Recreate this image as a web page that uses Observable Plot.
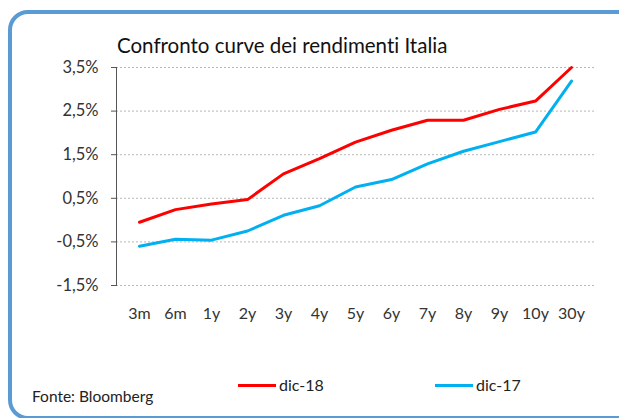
<!DOCTYPE html>
<html>
<head>
<meta charset="utf-8">
<script src="https://cdn.jsdelivr.net/npm/d3@7"></script>
<script src="https://cdn.jsdelivr.net/npm/@observablehq/plot@0.6"></script>
<style>
  html, body { margin: 0; padding: 0; background: #fff; }
  #wrap { position: relative; width: 619px; height: 418px; overflow: hidden; background: #fff; font-family: Lato, sans-serif; font-variant-ligatures: none; }
  #box { position: absolute; left: 8px; top: 10px; width: 640px; height: 410px; box-sizing: border-box;
         border: 4px solid #5B9BD5; border-radius: 20px; }
  #title { position: absolute; left: 117px; top: 36px; font-size: 20.5px; line-height: 18px; color: #111; white-space: nowrap; }
  #chart { position: absolute; left: 0; top: 0; }
  #chart svg text { font-variant-ligatures: none; }
  .leg { position: absolute; top: 377px; font-size: 16px; line-height: 16px; color: #222; white-space: nowrap; }
  .leg .sw { display: inline-block; width: 38px; height: 3px; vertical-align: middle; margin-right: 3px; position: relative; top: -1px; }
  #fonte { position: absolute; left: 32px; top: 388px; font-size: 15.5px; line-height: 16px; color: #222; white-space: nowrap; }
</style>
</head>
<body>
<div id="wrap">
  <div id="box"></div>
  <div id="title">Confronto curve dei rendimenti Italia</div>
  <div id="chart"></div>
  <div class="leg" style="left:238px"><span class="sw" style="background:#FF0000"></span>dic-18</div>
  <div class="leg" style="left:435px"><span class="sw" style="background:#00B0F0"></span>dic-17</div>
  <div id="fonte">Fonte: Bloomberg</div>
</div>
<script>
const tenors = ["3m", "6m", "1y", "2y", "3y", "4y", "5y", "6y", "7y", "8y", "9y", "10y", "30y"];
const dic18 = [-0.05, 0.24, 0.37, 0.47, 1.06, 1.41, 1.79, 2.06, 2.29, 2.29, 2.54, 2.73, 3.50];
const dic17 = [-0.60, -0.44, -0.46, -0.25, 0.11, 0.33, 0.76, 0.93, 1.29, 1.58, 1.80, 2.02, 3.19];
const seriesNames = ["dic-18", "dic-17"];
const seriesColors = ["#FF0000", "#00B0F0"];
const yTicks = [-1.5, -0.5, 0.5, 1.5, 2.5, 3.5];

const data = [];
tenors.forEach((t, i) => {
  data.push({tenor: t, serie: seriesNames[0], v: dic18[i]});
  data.push({tenor: t, serie: seriesNames[1], v: dic17[i]});
});
const fmt = d => d.toFixed(1).replace(".", ",") + "%";

const chart = Plot.plot({
  width: 619,
  height: 340,
  marginLeft: 116,
  marginRight: 25,
  marginTop: 67,
  marginBottom: 55,
  style: {fontFamily: "Lato, sans-serif", fontSize: "16px", color: "#333", background: "transparent", overflow: "visible"},
  x: {type: "point", domain: tenors, padding: 0.5, label: null},
  y: {domain: [-1.5, 3.5], label: null},
  color: {domain: seriesNames, range: seriesColors},
  marks: [
    Plot.gridY(yTicks, {stroke: "#b8b8b8", strokeOpacity: 1, strokeDasharray: "2,2"}),
    Plot.frame({anchor: "left", stroke: "#555"}),
    Plot.axisY(yTicks, {tickSize: 5, tickPadding: 13, tickFormat: fmt, stroke: "#555", fill: "#333", fontSize: 16.5}),
    Plot.axisX({tickSize: 0, tickPadding: 22, fill: "#333", fontSize: 16}),
    Plot.line(data, {x: "tenor", y: "v", z: "serie", stroke: "serie", strokeWidth: 3})
  ]
});
document.getElementById("chart").appendChild(chart);
</script>
</body>
</html>
